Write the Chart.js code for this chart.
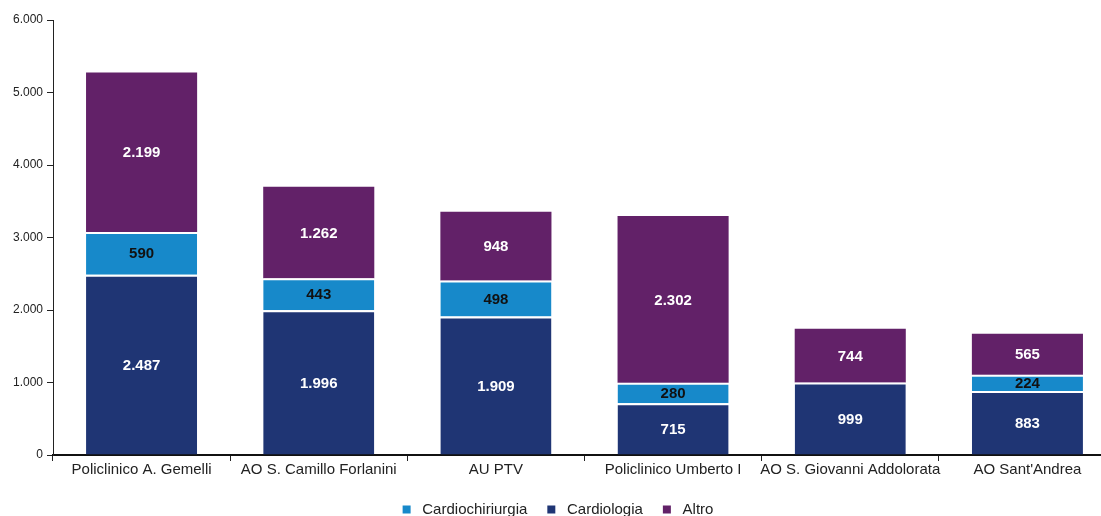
<!DOCTYPE html>
<html><head><meta charset="utf-8">
<script src="https://cdn.jsdelivr.net/npm/chart.js@4"></script>
<style>html,body{margin:0;padding:0;overflow:hidden;background:#fff}#wrap{width:1116px;height:516px;position:relative}</style>
</head><body><div id="wrap"><canvas id="c"></canvas></div>
<script>
const categories = ["Policlinico A. Gemelli","AO S. Camillo Forlanini","AU PTV","Policlinico Umberto I","AO S. Giovanni Addolorata","AO Sant'Andrea"];
const cardiologia = [2487,1996,1909,715,999,883];
const cardiochirurgia = [590,443,498,280,0,224];
const altro = [2199,1262,948,2302,744,565];
const yTicks = [0,1000,2000,3000,4000,5000,6000];
const legendOrder = ["Cardiochiriurgia","Cardiologia","Altro"];

const FONT = '"Liberation Sans", Arial, sans-serif';
const fmt = v => v.toLocaleString('de-DE');

const labelPlugin = {
  id:'segLabels',
  afterInit(chart){
    const l = chart.legend;
    const f = l.fit.bind(l);
    l.fit = function(){ f(); this.height = 27; };
  },
  afterLayout(chart){
    const l = chart.legend;
    l.top -= 7; l.bottom = 516; l.height = l.bottom - l.top;
  },
  afterDatasetsDraw(chart){
    const ctx = chart.ctx;
    ctx.save();
    ctx.font = 'bold 15px ' + FONT;
    ctx.textAlign='center'; ctx.textBaseline='middle';
    chart.data.datasets.forEach((ds,i)=>{
      const meta = chart.getDatasetMeta(i);
      meta.data.forEach((bar,j)=>{
        const v = ds.data[j];
        if(!v) return;
        const y = (bar.y + bar.base)/2 + 1;
        ctx.fillStyle = ds.labelColor;
        ctx.fillText(fmt(v), bar.x, y);
      });
    });
    ctx.restore();
  }
};

new Chart(document.getElementById('c'),{
  type:'bar',
  data:{labels:categories,datasets:[
    {label:'Cardiologia',data:cardiologia,backgroundColor:'#1F3574',labelColor:'#ffffff',borderColor:'#ffffff',borderWidth:{top:2,left:0,right:0,bottom:0},borderSkipped:false},
    {label:'Cardiochiriurgia',data:cardiochirurgia,backgroundColor:'#1789CA',labelColor:'#111111',borderColor:'#ffffff',borderWidth:{top:2,left:0,right:0,bottom:0},borderSkipped:false},
    {label:'Altro',data:altro,backgroundColor:'#622168',labelColor:'#ffffff',borderColor:'#ffffff',borderWidth:0}
  ]},
  options:{
    responsive:true,maintainAspectRatio:false,animation:false,
    layout:{padding:{top:20,left:0,right:0,bottom:0}},
    datasets:{bar:{barPercentage:0.627,categoryPercentage:1}},
    plugins:{
      tooltip:{enabled:false},
      legend:{position:'bottom',
        labels:{boxWidth:8,boxHeight:8,padding:20,color:'#222',
          font:{family:FONT,size:15},
          generateLabels:(chart)=>{
            const items = Chart.defaults.plugins.legend.labels.generateLabels(chart);
            items.forEach(it=>{it.text=' '+it.text; it.lineWidth=0;});
            return items;
          },
          sort:(a,b)=>legendOrder.indexOf(a.text.trim())-legendOrder.indexOf(b.text.trim())}}
    },
    scales:{
      x:{stacked:true,
        grid:{display:true,drawOnChartArea:false,drawTicks:true,tickLength:6,color:'#222',offset:true},
        border:{display:true,color:'#111',width:2},
        ticks:{color:'#222',font:{family:FONT,size:15},padding:0,maxRotation:0,autoSkip:false},
        afterFit:s=>{s.height=34;}
      },
      y:{stacked:true,min:0,max:6000,
        afterBuildTicks:s=>{s.ticks=yTicks.map(v=>({value:v}));},
        grid:{display:true,drawOnChartArea:false,drawTicks:true,tickLength:6,color:'#222'},
        border:{display:true,color:'#222',width:1},
        ticks:{color:'#222',font:{family:FONT,size:12},padding:4,callback:v=>fmt(v)},
        afterFit:s=>{s.width=53;}
      }
    }
  },
  plugins:[labelPlugin]
});
</script></body></html>
